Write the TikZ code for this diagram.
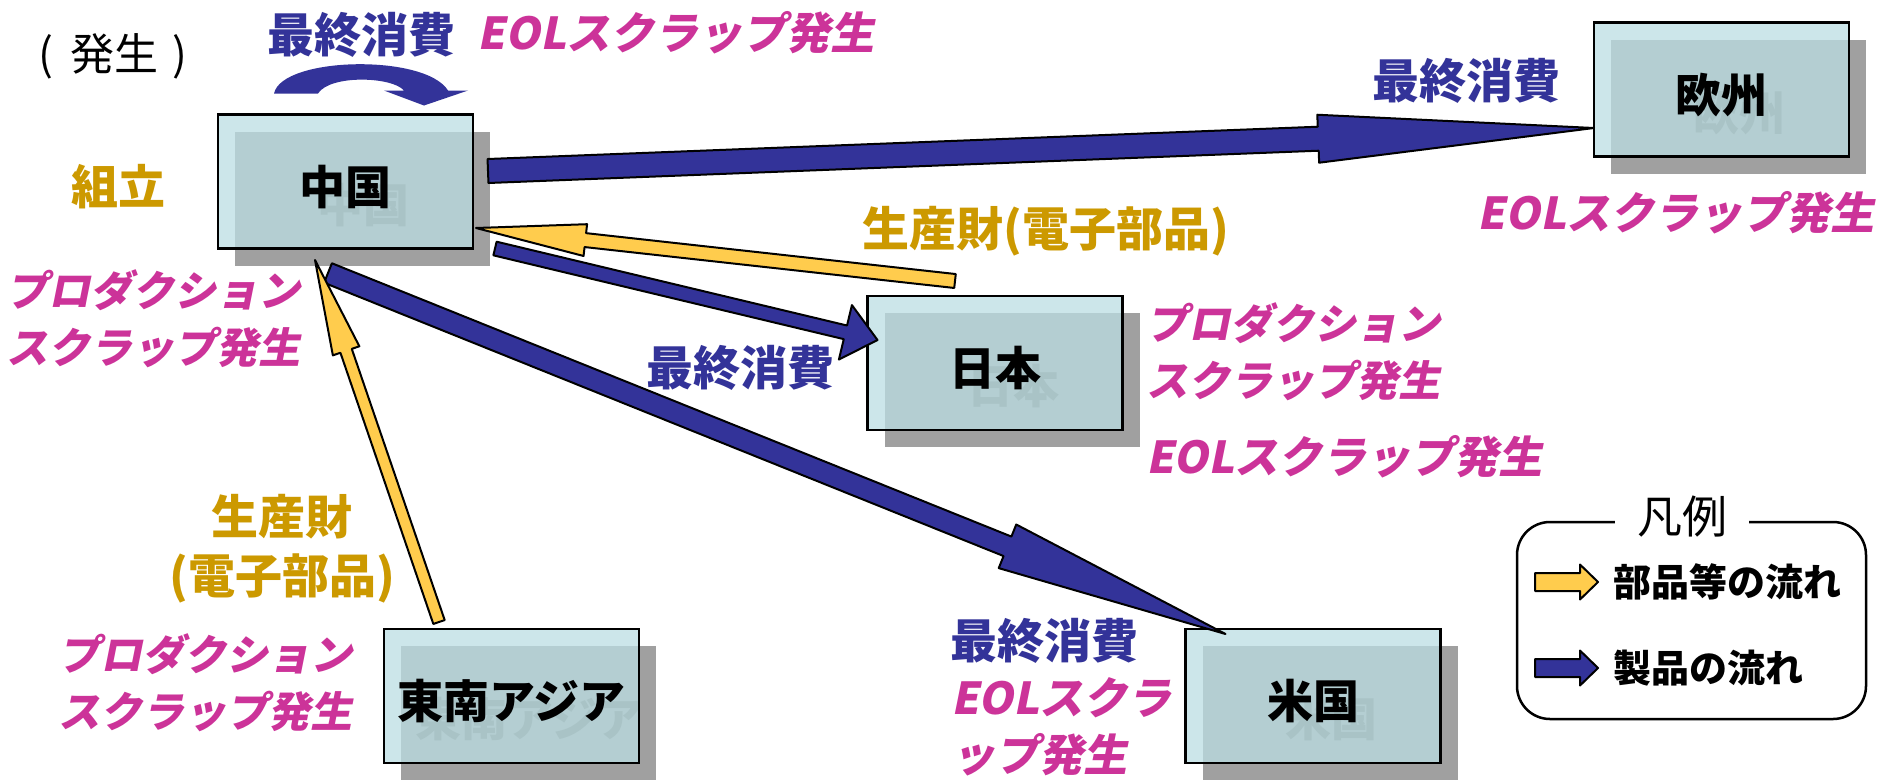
\documentclass[tikz,border=0pt]{standalone}
\usepackage{fontspec}
\setmainfont{Noto Sans CJK JP}
\newfontfamily\jpit{Noto Sans CJK JP}[FakeSlant=0.2]
\usetikzlibrary{calc,shadows}
\definecolor{navy}{HTML}{333399}
\definecolor{gold}{HTML}{CC9900}
\definecolor{mag}{HTML}{CC3399}
\definecolor{ylw}{HTML}{FFCC4D}
\definecolor{boxlight}{HTML}{CCE6EA}
\definecolor{boxdark}{HTML}{B4CED2}
\definecolor{shadowgray}{HTML}{A0A0A0}
\definecolor{ghostc}{HTML}{A9C3C6}
\newcommand{\blockarrow}[6]{%
  \coordinate (ba-h) at ($(#2)!#5!(#1)$);
  \filldraw[#6] ($(#1)!#3!90:(#2)$) -- ($(ba-h)!#3!90:(#2)$) -- ($(ba-h)!#4!90:(#2)$) -- (#2)
    -- ($(ba-h)!#4!-90:(#2)$) -- ($(ba-h)!#3!-90:(#2)$) -- ($(#1)!#3!-90:(#2)$) -- cycle;
}
\tikzset{
  region/.style={draw=black, line width=2.5pt, fill=boxlight, minimum width=255pt, minimum height=134pt,
    inner sep=0pt, outer sep=0pt, font=\fontsize{46}{50}\selectfont\bfseries,
    text height=50pt, text depth=5pt,
    drop shadow={shadow xshift=17pt, shadow yshift=-17pt, fill=shadowgray, opacity=1},
    path picture={\fill[boxdark] ([shift={(17pt,-17pt)}]path picture bounding box.north west) rectangle (path picture bounding box.south east);
      \node[font=\fontsize{46}{50}\selectfont\bfseries, text=ghostc, inner sep=0pt, text height=50pt, text depth=5pt] at ([shift={(18pt,-18pt)}]path picture bounding box.center) {#1};}},
  navytxt/.style={text=navy, font=\fontsize{47}{56}\selectfont\bfseries, inner sep=0pt},
  goldtxt/.style={text=gold, font=\fontsize{47}{59}\selectfont\bfseries, inner sep=0pt, align=center},
  magtxt/.style={text=mag, font=\fontsize{42}{57}\selectfont\bfseries\jpit, inner sep=0pt, align=left},
  eoltxt/.style={magtxt, font=\fontsize{44}{57}\selectfont\bfseries\jpit},
  plaintxt/.style={text=black, font=\fontsize{44}{48}\selectfont, inner sep=0pt},
  legtxt/.style={text=black, font=\fontsize{38}{44}\selectfont\bfseries, inner sep=0pt, anchor=west},
  parts/.style={fill=ylw, draw=black, line width=2pt, line join=round},
  goods/.style={fill=navy, draw=black, line width=2pt, line join=round},
}
\begin{document}
\begin{tikzpicture}[x=1pt,y=-1pt]
\fill[white] (0,0) rectangle (1879,780);
\useasboundingbox (0,0) rectangle (1879,780);

% boxes
\node[region=中国] (china) at (345.5,181.5) {中国};
\node[region=欧州] (europe) at (1721.5,89.5) {欧州};
\node[region=日本] (japan) at (995,363) {日本};
\node[region=東南アジア] (sea) at (511.5,696) {東南アジア};
\node[region=米国] (us) at (1313,696) {米国};

% connector end points
\coordinate (eu-t) at ($(china.east)+(15,-10.5)$);
\coordinate (eu-h) at ($(europe.west)+(0,38.5)$);
\coordinate (jc-t) at ($(japan.north)+(-40,-15)$);
\coordinate (jc-h) at ($(china.east)+(3,46.5)$);
\coordinate (cj-t) at ($(china.south east)+(22,0)$);
\coordinate (cj-h) at ($(japan.west)+(10,-23)$);
\coordinate (cu-t) at ($(china.south)+(-17.5,24.5)$);
\coordinate (cu-h) at ($(us.north west)+(40,5)$);
\coordinate (sc-t) at ($(sea.north)+(-72.5,-7)$);
\coordinate (sc-h) at ($(china.south)+(-30.5,11.5)$);

% flows
\blockarrow{eu-t}{eu-h}{12pt}{24pt}{276pt}{goods}
\blockarrow{jc-t}{jc-h}{7pt}{16pt}{110pt}{parts}
\blockarrow{cj-t}{cj-h}{7pt}{28pt}{33pt}{goods}
\blockarrow{cu-t}{cu-h}{10.5pt}{23.5pt}{235pt}{goods}
\blockarrow{sc-t}{sc-h}{6pt}{14pt}{96pt}{parts}

% self loop (domestic final consumption)
\begin{scope}[shift={(china.north)}]
\fill[navy] (-71.5,-21) .. controls (-63.5,-58) and (79.5,-61) .. (102.5,-24)
  -- (122.5,-24) -- (78.5,-9) -- (38.5,-24) -- (58.5,-24)
  .. controls (46.5,-38) and (-15.5,-40) .. (-27.5,-21) -- cycle;
\end{scope}

% labels
\node[plaintxt] (hassei) at (113,56) {(\hspace{17pt}発生\hspace{14pt})};
\node[navytxt] (fc1) at (361,35) {最終消費};
\node[eoltxt] (eol1) at (676,33) {EOLスクラップ発生};
\node[goldtxt] (kumi) at (118,187) {組立};
\node[navytxt] (fc2) at (1466,81) {最終消費};
\node[eoltxt] (eol2) at (1676,213) {EOLスクラップ発生};
\node[magtxt, anchor=west] (ps1) at (6,319) {プロダクション\\スクラップ発生};
\node[goldtxt] (pg1) at (1046,231) {生産財(電子部品)};
\node[navytxt] (fc3) at (740,368) {最終消費};
\node[magtxt, anchor=west] (ps2) at (1146,352) {プロダクション\\スクラップ発生};
\node[eoltxt, anchor=west] (eol3) at (1146,457) {EOLスクラップ発生};
\node[goldtxt] (pg2) at (282,549) {生産財\\(電子部品)};
\node[magtxt, anchor=west] (ps3) at (58,683) {プロダクション\\スクラップ発生};
\node[navytxt, anchor=west] (fc4) at (950,641) {最終消費};
\node[eoltxt, anchor=west] (eol4) at (951,726.5) {EOLスクラ\\ップ発生};

% legend
\node[draw=black, line width=2.5pt, rounded corners=33pt, minimum width=349pt, minimum height=197pt,
  inner sep=0pt, outer sep=0pt] (legend) at (1691.5,620.5) {};
\node[fill=white, inner xsep=22pt, inner ysep=2pt, font=\fontsize{45}{50}\selectfont] (legtitle) at (1682,517) {凡例};
\coordinate (ly-t) at ($(legend.west)+(18,-38.5)$);
\coordinate (ly-h) at ($(legend.west)+(81,-38.5)$);
\coordinate (ln-t) at ($(legend.west)+(18,47.5)$);
\coordinate (ln-h) at ($(legend.west)+(81,47.5)$);
\blockarrow{ly-t}{ly-h}{9pt}{17.5pt}{18pt}{parts}
\blockarrow{ln-t}{ln-h}{9pt}{17.5pt}{18pt}{goods}
\node[legtxt] (legparts) at ($(legend.west)+(96,-38.5)$) {部品等の流れ};
\node[legtxt] (leggoods) at ($(legend.west)+(96,47.5)$) {製品の流れ};
\end{tikzpicture}
\end{document}
